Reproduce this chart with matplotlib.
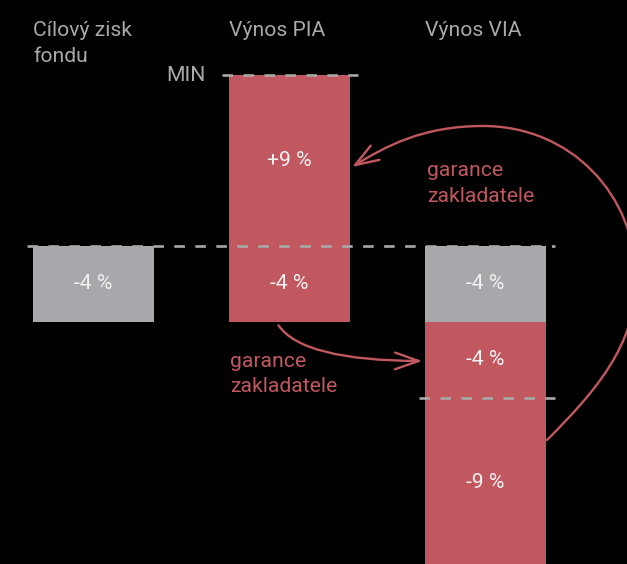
import numpy as np
import matplotlib.pyplot as plt
from matplotlib.patches import FancyArrowPatch
from matplotlib.path import Path

plt.rcParams['font.family'] = ['Roboto', 'DejaVu Sans']

# data
categories = ['Cílový zisk\nfondu', 'Výnos PIA', 'Výnos VIA']
seg_col = [0, 1, 1, 2, 2, 2]
seg_bottom = [-4, 0, -4, -4, -8, -17]
seg_top = [0, 9, 0, 0, -4, -8]
seg_kind = ['gray', 'red', 'red', 'gray', 'red', 'red']
seg_label = ['-4 %', '+9 %', '-4 %', '-4 %', '-4 %', '-9 %']
min_level = 9
guarantee_text = 'garance\nzakladatele'

RED = '#c1585f'
GRAY = '#a7a8ac'
LINE = '#a8a8a8'
TEXT = '#a9a9a9'
colors = {'red': RED, 'gray': GRAY}
FS = 15.2

W, H = 627, 564
fig = plt.figure(figsize=(W / 100, H / 100), dpi=100, facecolor='black')
ax = fig.add_axes([0, 0, 1, 1])
ax.set_facecolor('black')
ax.set_xlim(-0.477, 2.722)
ax.set_ylim(-16.78, 12.98)
ax.axis('off')

bw = 0.617
for c, b, t, k, lab in zip(seg_col, seg_bottom, seg_top, seg_kind, seg_label):
    ax.bar(c, t - b, bottom=b, width=bw, color=colors[k], linewidth=0)
    ax.text(c, (b + t) / 2, lab, color='#f2f2f2', fontsize=FS,
            ha='center', va='center')

# dashed reference lines
dash = dict(color=LINE, lw=1.9, dashes=(4.0, 3.95), zorder=3)
ax.plot([0.656, 1.349], [min_level, min_level], **dash)
ax.plot([-0.339, 2.354], [0, 0], **dash)
ax.plot([1.661, 2.354], [-8, -8], **dash)
ax.text(0.57, min_level, 'MIN', color=TEXT, fontsize=FS, ha='right', va='center')

# overlay in pixel coords for text placement and arrows
ov = fig.add_axes([0, 0, 1, 1])
ov.set_xlim(0, W)
ov.set_ylim(H, 0)
ov.axis('off')
ov.patch.set_alpha(0)


def lines_at(x, y0, text, color, step=26):
    for j, line in enumerate(text.split('\n')):
        ov.text(x, y0 + j * step, line, color=color, fontsize=FS,
                ha='left', va='baseline')


# headers, left-aligned with the bar edges
for i, cat in enumerate(categories):
    x_px = ax.transData.transform((i - bw / 2, 0))[0]
    lines_at(x_px, 36, cat, TEXT)

lines_at(427, 176, guarantee_text, RED)
lines_at(230, 367, guarantee_text, RED, step=25)

head = dict(arrowstyle='->,head_length=0.85,head_width=0.3', mutation_scale=20,
            color=RED, lw=1.7)
ov.add_patch(FancyArrowPatch((277, 323), (425, 361),
                             connectionstyle='angle3,angleA=-60,angleB=0',
                             **head))

# big arc from bottom VIA bar back to PIA bar
verts = [(547, 440), (595, 392), (636, 345), (636, 280),
         (636, 195), (571, 126), (483, 126),
         (423, 126), (386, 146), (352, 167)]
codes = [Path.MOVETO] + [Path.CURVE4] * 9
ov.add_patch(FancyArrowPatch(path=Path(verts, codes), **head))

fig.savefig('out.png', dpi=100, facecolor='black')
